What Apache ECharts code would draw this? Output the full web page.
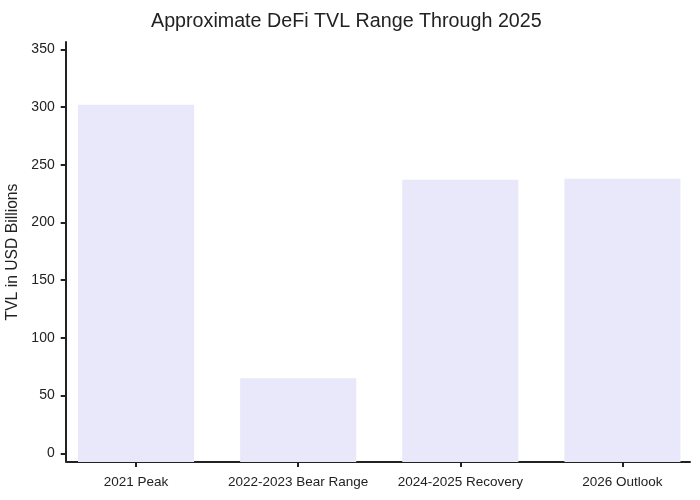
<!DOCTYPE html>
<html>
<head>
<meta charset="utf-8">
<script src="https://cdn.jsdelivr.net/npm/echarts@6/dist/echarts.min.js"></script>
<style>
  html, body { margin: 0; padding: 0; background: #fff; }
  #chart { width: 700px; height: 500px; }
</style>
</head>
<body>
<div id="chart"></div>
<script>
// chart data
const categories = ['2021 Peak', '2022-2023 Bear Range', '2024-2025 Recovery', '2026 Outlook'];
const tvlValues = [302, 65, 237, 238];
const yTicks = [0, 50, 100, 150, 200, 250, 300, 350];

const axisColor = '#222';
const textColor = '#222';

const chart = echarts.init(document.getElementById('chart'));

chart.setOption({
    animation: false,
    backgroundColor: '#fff',
    textStyle: { fontFamily: 'Liberation Sans, Arial, sans-serif' },
    title: {
        text: 'Approximate DeFi TVL Range Through 2025',
        left: 146,
        top: 7,
        textStyle: { fontSize: 19.7, fontWeight: 'normal', color: textColor }
    },
    grid: [
        { left: 55, right: -3.5, top: 42, bottom: 38, outerBoundsMode: 'none', containLabel: false },  // bars
        { left: 67, right: 10, top: 42, bottom: 38, outerBoundsMode: 'none', containLabel: false }     // x axis line only
    ],
    xAxis: [
        {
            type: 'category',
            gridIndex: 0,
            data: categories,
            axisLine: { show: true, onZero: false, lineStyle: { color: '#fff', opacity: 0 } },
            axisTick: { show: true, interval: 0, alignWithLabel: true, length: 5, lineStyle: { color: axisColor, width: 2, opacity: 1 } },
            axisLabel: { color: textColor, fontSize: 13.5, margin: 13, interval: 0 },
            splitLine: { show: false }
        },
        {
            type: 'value',
            gridIndex: 1,
            axisLine: { show: true, onZero: false, lineStyle: { color: axisColor, width: 2 } },
            axisTick: { show: false },
            axisLabel: { show: false },
            splitLine: { show: false }
        }
    ],
    yAxis: [
        {
            type: 'value',
            gridIndex: 0,
            min: -7.5,
            max: 356.4,
            startValue: -7.5,
            offset: -10.7,
            name: 'TVL in USD Billions',
            nameLocation: 'middle',
            nameGap: 43,
            nameTextStyle: { color: textColor, fontSize: 15.7 },
            axisLine: { show: true, lineStyle: { color: axisColor, width: 2 } },
            axisTick: { show: true, length: 5, customValues: yTicks, lineStyle: { color: axisColor, width: 2 } },
            axisLabel: { color: textColor, fontSize: 14, margin: 11, customValues: yTicks },
            splitLine: { show: false }
        },
        {
            type: 'value',
            gridIndex: 1,
            show: false
        }
    ],
    series: [
        {
            type: 'bar',
            xAxisIndex: 0,
            yAxisIndex: 0,
            data: tvlValues,
            barCategoryGap: '28.4%',
            itemStyle: { color: '#E8E8FA' }
        }
    ]
});
</script>
</body>
</html>
